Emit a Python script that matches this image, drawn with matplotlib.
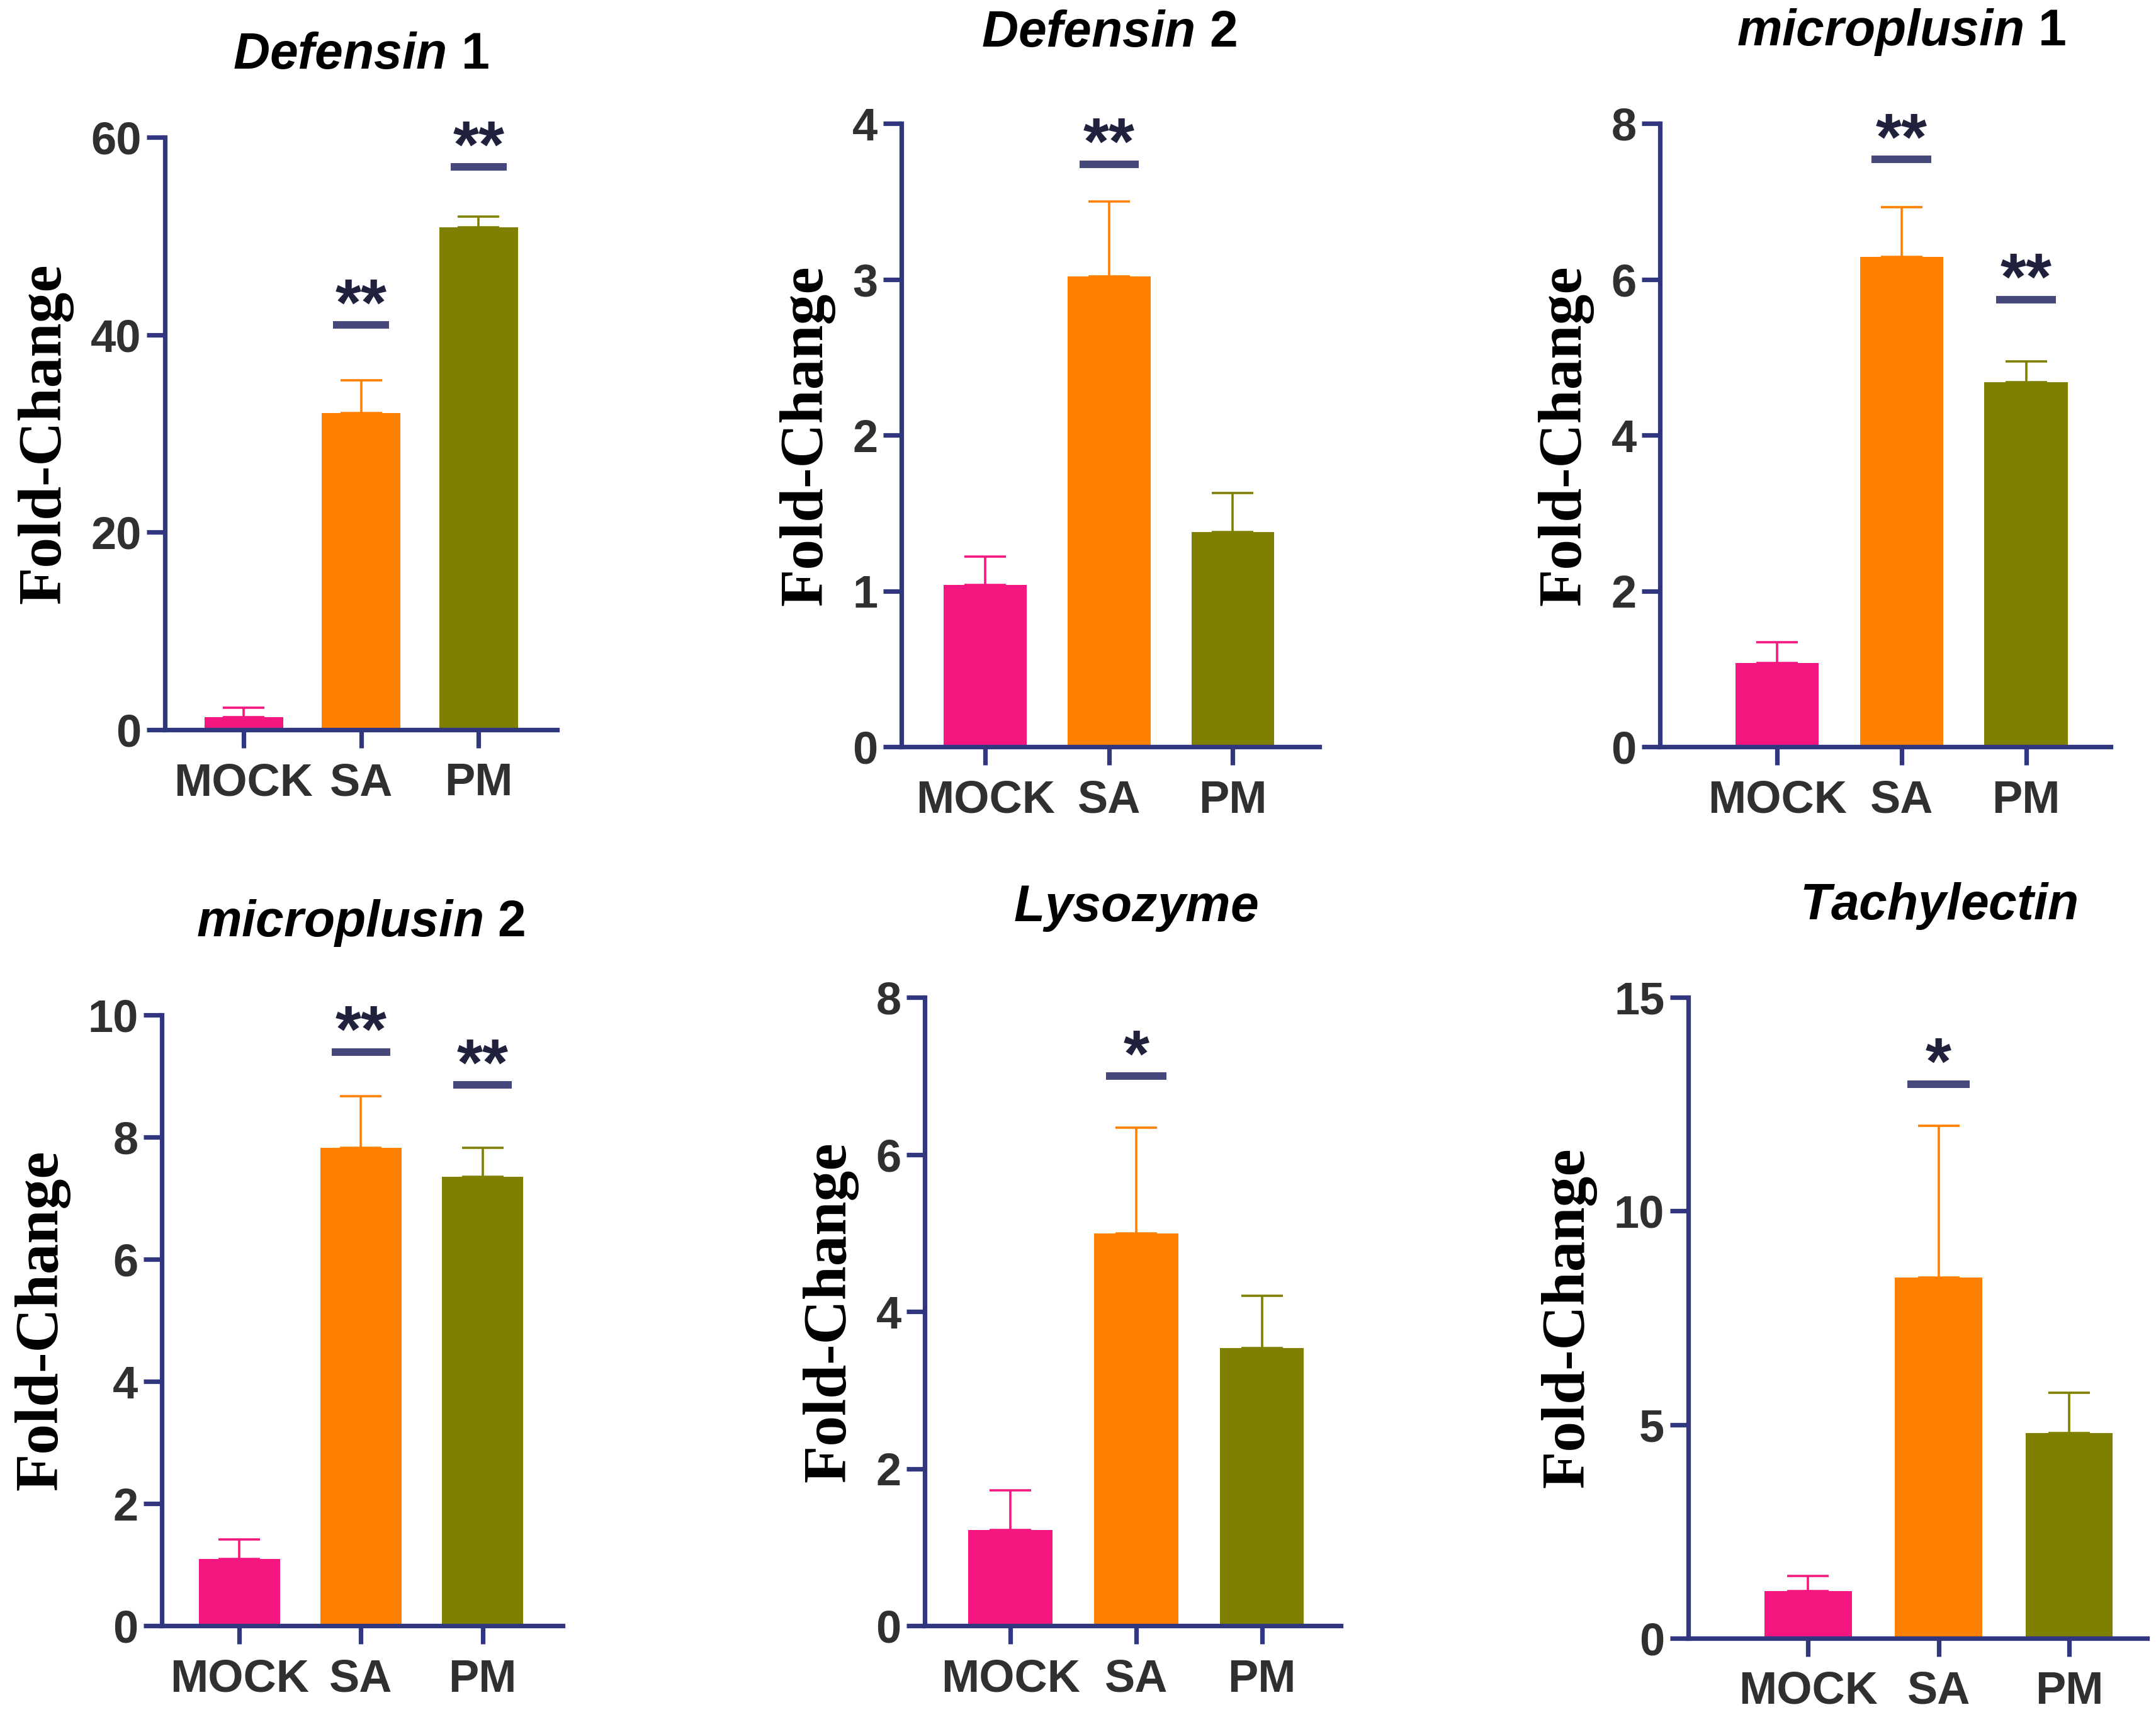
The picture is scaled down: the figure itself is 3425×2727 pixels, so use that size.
import numpy as np
import matplotlib.pyplot as plt
from matplotlib import transforms

plt.rcParams['font.family'] = ['Liberation Sans', 'DejaVu Sans']
plt.rcParams['mathtext.fontset'] = 'custom'
plt.rcParams['mathtext.it'] = 'Liberation Sans:italic:bold'
plt.rcParams['mathtext.rm'] = 'Liberation Sans:bold'

groups = ['MOCK', 'SA', 'PM']
colors = ['#f5177f', '#ff8000', '#808000']

titles = [r'$\mathit{Defensin}$ 1', r'$\mathit{Defensin}$ 2', r'$\mathit{microplusin}$ 1',
          r'$\mathit{microplusin}$ 2', r'$\mathit{Lysozyme}$', r'$\mathit{Tachylectin}$']

# mean fold-change and upper error for each gene
defensin1_mean = [1.26, 32.1, 50.9]
defensin1_err = [0.94, 3.3, 1.1]
defensin2_mean = [1.04, 3.02, 1.38]
defensin2_err = [0.18, 0.48, 0.25]
microplusin1_mean = [1.08, 6.29, 4.68]
microplusin1_err = [0.26, 0.64, 0.27]
microplusin2_mean = [1.10, 7.82, 7.35]
microplusin2_err = [0.32, 0.85, 0.47]
lysozyme_mean = [1.22, 5.00, 3.54]
lysozyme_err = [0.51, 1.34, 0.66]
tachylectin_mean = [1.10, 8.45, 4.80]
tachylectin_err = [0.35, 3.55, 0.94]

means = [defensin1_mean, defensin2_mean, microplusin1_mean,
         microplusin2_mean, lysozyme_mean, tachylectin_mean]
errs = [defensin1_err, defensin2_err, microplusin1_err,
        microplusin2_err, lysozyme_err, tachylectin_err]

ymax = [60, 4, 8, 10, 8, 15]
yticks = [[0, 20, 40, 60], [0, 1, 2, 3, 4], [0, 2, 4, 6, 8],
          [0, 2, 4, 6, 8, 10], [0, 2, 4, 6, 8], [0, 5, 10, 15]]

# significance marks: (bar index, line height, label)
sig = [[(1, 41.0, '**'), (2, 57.0, '**')],
       [(1, 3.74, '**')],
       [(1, 7.54, '**'), (2, 5.74, '**')],
       [(1, 9.39, '**'), (2, 8.85, '**')],
       [(1, 7.0, '*')],
       [(1, 12.97, '*')]]

# axes boxes [left, bottom, width, height] and x limits
boxes = [[0.0765, 0.575, 0.182, 0.345],
         [0.418, 0.565, 0.194, 0.363],
         [0.770, 0.565, 0.209, 0.363],
         [0.075, 0.053, 0.186, 0.356],
         [0.429, 0.053, 0.193, 0.366],
         [0.783, 0.046, 0.213, 0.373]]
xlims = [(-0.67, 2.67), (-0.68, 2.70), (-0.94, 2.68),
         (-0.64, 2.66), (-0.68, 2.63), (-0.92, 2.60)]
title_pad = [33, 38, 38, 38, 37, 38]

axis_col = '#31377f'

fig = plt.figure(figsize=(17.125, 13.635), dpi=200)

for i in range(6):
    ax = fig.add_axes(boxes[i])
    x = np.arange(3)
    ax.bar(x, means[i], width=0.67, color=colors, zorder=2)
    for j in range(3):
        ax.errorbar(x[j], means[i][j], yerr=[[0], [errs[i][j]]], fmt='none',
                    ecolor=colors[j], elinewidth=1.3, capsize=12, capthick=1.3, zorder=1)
    ax.set_xlim(xlims[i])
    ax.set_ylim(0, ymax[i])
    ax.set_yticks(yticks[i])
    ax.set_xticks(x)
    ax.set_xticklabels(groups)
    for s in ['top', 'right']:
        ax.spines[s].set_visible(False)
    for s in ['left', 'bottom']:
        ax.spines[s].set_color(axis_col)
        ax.spines[s].set_linewidth(2.6)
    ax.tick_params(axis='both', colors=axis_col, width=2.6, length=10.5, labelcolor='#303030')
    ax.tick_params(axis='y', labelsize=26, pad=3)
    ax.tick_params(axis='x', labelsize=26, pad=8)
    for lab in ax.get_xticklabels() + ax.get_yticklabels():
        lab.set_fontweight('bold')
    ax.set_ylabel('Fold-Change', family=['Liberation Serif'], fontweight='bold',
                  fontsize=35, labelpad=10)

    # title centred over the middle bar
    trans = transforms.blended_transform_factory(ax.transData, ax.transAxes)
    trans = trans + transforms.ScaledTranslation(0, title_pad[i] / 72, fig.dpi_scale_trans)
    ax.text(1, 1.0, titles[i], transform=trans, ha='center', va='bottom',
            fontsize=29, fontweight='bold', color='black')

    for (b, h, lab) in sig[i]:
        ax.plot([b - 0.24, b + 0.24], [h, h], color='#46487c', lw=4.3,
                solid_capstyle='butt', clip_on=False)
        ax.annotate(lab, (b, h), xytext=(0, 0), textcoords='offset points',
                    ha='center', va='baseline', fontsize=38, fontweight='bold',
                    color='#20213d', annotation_clip=False)

fig.savefig('out.png', dpi=200)
